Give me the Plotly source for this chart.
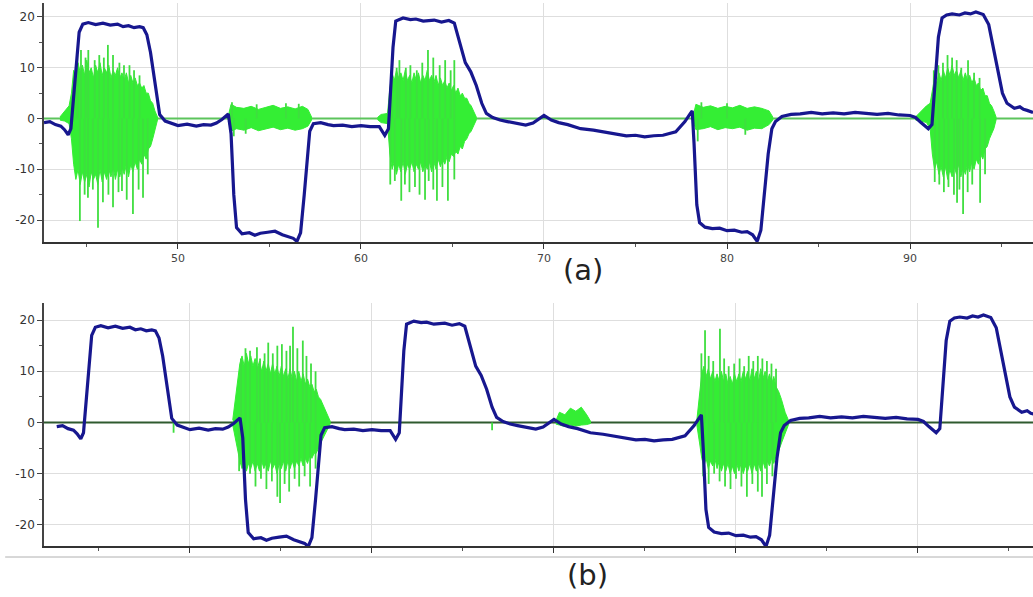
import plotly.graph_objects as go

# ---------------- data ----------------
# blue (slow) signal, shared by both panels
BLUE_T = [42.68, 43.0, 43.3, 43.6, 43.8, 44.0, 44.15, 44.3, 44.45, 44.6, 44.8, 45.1, 45.5, 45.9, 46.3, 46.7,
          47.0, 47.3, 47.6, 47.9, 48.1, 48.3, 48.5, 48.7, 48.85, 49.0, 49.3, 49.7, 50.0, 50.5, 51.0, 51.4,
          51.8, 52.1, 52.4, 52.75, 52.9, 53.05, 53.2, 53.5, 53.9, 54.2, 54.5, 54.9, 55.3, 55.7, 56.0, 56.3,
          56.5, 56.7, 56.9, 57.05, 57.2, 57.4, 57.8, 58.2, 58.5, 59.0, 59.5, 60.0, 60.5, 61.0, 61.3, 61.5,
          61.6, 61.75, 61.9, 62.3, 62.7, 63.0, 63.4, 64.0, 64.4, 64.8, 65.1, 65.4, 65.7, 66.0, 66.3, 66.6,
          66.85, 67.2, 67.6, 68.0, 68.5, 69.0, 69.4, 69.7, 70.0, 70.4, 70.8, 71.3, 72.0, 72.7, 73.5, 74.0,
          74.5, 75.0, 75.5, 76.0, 76.5, 77.2, 77.7, 78.0, 78.1, 78.2, 78.35, 78.5, 78.8, 79.2, 79.6, 80.0,
          80.4, 80.8, 81.1, 81.4, 81.65, 81.85, 82.05, 82.25, 82.45, 82.65, 83.0, 83.5, 84.0, 84.6, 85.2,
          85.8, 86.4, 87.0, 87.6, 88.2, 88.8, 89.4, 90.0, 90.3, 90.6, 91.0, 91.2, 91.35, 91.55, 91.75, 92.0,
          92.3, 92.7, 93.0, 93.3, 93.6, 94.0, 94.3, 94.55, 94.8, 95.05, 95.3, 95.5, 95.7, 96.0, 96.2, 96.4, 96.72]
BLUE_V = [-0.8, -0.6, -1.2, -1.5, -2.2, -3.2, -2.0, 5.0, 12.0, 17.0, 18.6, 18.9, 18.5, 18.8, 18.4, 18.6,
          18.1, 18.3, 17.9, 18.1, 17.9, 16.5, 13.0, 8.0, 3.5, 0.8, -0.5, -1.0, -1.4, -1.1, -1.5, -1.2,
          -1.3, -0.9, -0.2, 0.9, -3.0, -15.0, -21.5, -22.7, -22.5, -23.0, -22.6, -22.4, -22.2, -22.9, -23.2, -23.6,
          -24.2, -22.5, -15.0, -8.0, -2.5, -1.0, -0.8, -1.2, -1.4, -1.3, -1.6, -1.4, -1.6, -1.6, -3.3, -2.0,
          5.0, 14.0, 19.2, 19.8, 19.5, 19.6, 19.2, 19.4, 19.0, 19.3, 18.8, 15.0, 11.0, 9.2, 6.5, 3.0,
          1.0, 0.2, -0.3, -0.6, -0.9, -1.3, -0.9, -0.2, 0.6, -0.3, -0.8, -1.2, -2.0, -2.3, -2.8, -3.1,
          -3.4, -3.3, -3.6, -3.4, -3.3, -2.6, -0.6, 1.0, 1.5, -5.0, -17.0, -20.5, -21.4, -21.7, -21.6, -22.1,
          -22.0, -22.4, -22.3, -22.9, -24.2, -22.0, -15.0, -7.0, -2.0, -0.6, 0.4, 0.8, 0.9, 1.2, 0.9,
          1.1, 0.9, 1.2, 1.0, 0.8, 1.0, 0.7, 0.6, 0.2, -0.8, -2.0, -1.2, 6.0, 16.0, 19.8, 20.4,
          20.6, 20.4, 20.8, 20.6, 21.0, 20.5, 18.5, 14.0, 9.0, 5.0, 3.0, 2.4, 2.0, 2.3, 1.8, 1.6, 1.2]

# ---- green bursts, panel (a): body envelopes + spikes ----
A_BODY_T = [
    [43.55, 43.8, 44.05, 44.18, 44.3, 44.42, 44.54, 44.66, 44.78, 44.9, 45.02, 45.14, 45.26, 45.38, 45.5,
     45.62, 45.74, 45.86, 45.98, 46.1, 46.22, 46.34, 46.46, 46.58, 46.7, 46.82, 46.94, 47.06, 47.18, 47.3,
     47.42, 47.54, 47.66, 47.78, 47.9, 48.02, 48.14, 48.26, 48.38, 48.5, 48.62, 48.74, 48.88],
    [52.75, 52.9, 53.2, 53.6, 54.0, 54.4, 54.8, 55.2, 55.6, 56.0, 56.4, 56.8, 57.1, 57.3],
    [60.9, 61.1, 61.45, 61.58, 61.7, 61.82, 61.94, 62.06, 62.18, 62.3, 62.42, 62.54, 62.66, 62.78, 62.9,
     63.02, 63.14, 63.26, 63.38, 63.5, 63.62, 63.74, 63.86, 63.98, 64.1, 64.22, 64.34, 64.46, 64.58, 64.7,
     64.82, 64.94, 65.06, 65.18, 65.3, 65.42, 65.54, 65.66, 65.78, 65.9, 66.02, 66.14, 66.3],
    [78.15, 78.3, 78.7, 79.1, 79.5, 79.9, 80.3, 80.7, 81.1, 81.5, 81.9, 82.3, 82.5],
    [90.3, 90.6, 90.9, 91.1, 91.22, 91.34, 91.46, 91.58, 91.7, 91.82, 91.94, 92.06, 92.18, 92.3, 92.42,
     92.54, 92.66, 92.78, 92.9, 93.02, 93.14, 93.26, 93.38, 93.5, 93.62, 93.74, 93.86, 93.98, 94.1, 94.22,
     94.34, 94.46, 94.58, 94.7],
]
A_BODY_UP = [
    [0.3, 1.5, 2.5, 5.0, 9.5, 8.0, 11.0, 9.0, 10.5, 8.5, 11.5, 9.0, 10.0, 8.0, 10.5, 9.0, 11.0, 8.5, 10.0,
     9.0, 10.5, 8.0, 9.5, 8.5, 10.0, 8.0, 9.0, 7.5, 9.0, 7.0, 8.5, 7.0, 8.0, 6.5, 7.0, 6.0, 6.5, 5.0, 5.0,
     3.5, 3.0, 1.5, 0.3],
    [0.5, 2.8, 2.2, 2.0, 2.4, 1.8, 2.2, 2.6, 2.0, 2.3, 1.9, 2.4, 1.8, 0.3],
    [0.2, 0.8, 1.0, 6.0, 9.0, 7.5, 9.5, 8.0, 9.0, 7.5, 9.5, 7.5, 8.5, 7.0, 9.0, 7.5, 9.0, 7.0, 8.5, 7.5,
     9.5, 7.5, 8.5, 7.0, 8.5, 6.5, 8.0, 6.5, 7.5, 6.0, 7.0, 5.5, 6.5, 5.0, 6.0, 4.5, 5.0, 4.0, 4.0, 3.0,
     2.5, 1.5, 0.3],
    [0.5, 2.8, 2.2, 2.5, 2.0, 2.4, 2.1, 2.6, 2.0, 2.3, 2.0, 1.5, 0.3],
    [0.3, 1.5, 2.5, 3.0, 6.0, 8.0, 7.0, 9.0, 7.5, 9.5, 8.0, 10.0, 8.5, 10.5, 8.5, 9.5, 8.0, 9.5, 7.5, 9.0,
     7.5, 8.5, 7.0, 8.0, 6.5, 7.0, 5.5, 6.0, 4.5, 4.5, 3.0, 2.5, 1.5, 0.3],
]
A_BODY_LO = [
    [-0.3, -0.5, -1.0, -4.0, -9.0, -12.0, -10.0, -13.0, -10.5, -12.5, -11.0, -13.5, -10.5, -12.0, -11.0,
     -13.0, -10.0, -12.5, -10.5, -12.0, -10.0, -11.5, -9.5, -12.0, -10.0, -11.5, -9.5, -11.0, -9.0, -11.5,
     -9.0, -10.5, -8.5, -10.0, -8.0, -9.0, -7.0, -8.0, -6.0, -5.5, -4.0, -2.5, -0.3],
    [-0.5, -2.5, -2.0, -2.3, -1.8, -2.4, -2.0, -1.7, -2.2, -1.9, -2.3, -2.0, -1.5, -0.3],
    [-0.2, -0.8, -1.0, -7.0, -10.0, -8.5, -11.0, -9.0, -10.5, -8.5, -11.0, -9.0, -10.0, -8.5, -10.5,
     -9.0, -10.0, -8.5, -10.5, -9.0, -10.0, -8.5, -10.5, -8.5, -10.0, -8.0, -9.5, -8.0, -9.0, -7.5, -8.5,
     -7.0, -7.5, -6.5, -7.0, -5.5, -6.0, -4.5, -4.0, -3.0, -2.5, -1.5, -0.3],
    [-0.5, -2.2, -2.0, -1.6, -2.2, -1.8, -2.0, -1.7, -2.3, -1.9, -2.0, -1.2, -0.3],
    [-0.3, -0.5, -0.8, -2.0, -7.0, -10.0, -8.5, -11.0, -9.5, -11.5, -9.5, -12.0, -10.0, -11.5, -9.5,
     -11.0, -9.0, -11.5, -9.5, -11.0, -9.0, -10.5, -8.5, -10.0, -8.0, -9.0, -7.0, -8.0, -6.0, -5.5, -4.0,
     -3.0, -2.0, -0.3],
]
A_SPIKE_T = [44.5, 44.7, 44.95, 45.1, 45.45, 45.7, 45.95, 46.17, 46.45, 46.8, 47.05, 47.35, 47.6, 47.9,
             44.64, 44.9, 45.08, 45.35, 45.63, 45.9, 46.2, 46.45, 46.75, 46.94, 47.2, 47.54, 47.85, 48.09, 48.35,
             52.95, 53.05, 53.7, 54.3, 55.9, 56.6,
             61.7, 61.95, 62.1, 62.45, 62.7, 63.05, 63.35, 63.66, 63.95, 64.3, 64.6, 64.9, 65.1,
             61.6, 61.85, 62.2, 62.4, 62.65, 62.95, 63.2, 63.5, 63.7, 63.95, 64.15, 64.45, 64.75, 65.1,
             78.4, 78.6, 80.0, 81.0,
             91.3, 91.55, 91.8, 92.05, 92.3, 92.55, 92.8, 93.17, 93.5, 93.8,
             91.35, 91.6, 91.85, 92.1, 92.4, 92.57, 92.7, 92.9, 93.15, 93.4, 93.83, 94.1]
A_SPIKE_V = [12.5, 13.5, 12.0, 13.5, 11.5, 12.5, 12.0, 14.5, 12.5, 11.0, 10.5, 10.5, 9.5, 8.5,
             -20.2, -15.0, -15.6, -14.0, -21.5, -16.5, -15.0, -17.5, -14.5, -14.3, -16.0, -18.8, -14.0, -15.6, -11.0,
             3.2, -3.5, -3.0, 2.8, 3.0, 2.9,
             10.5, 10.0, 11.5, 10.0, 10.5, 9.5, 11.0, 13.5, 12.0, 10.5, 11.5, 9.5, 11.5,
             -13.0, -12.3, -16.2, -13.0, -14.5, -13.5, -15.0, -16.0, -12.3, -14.0, -16.2, -13.5, -16.2, -12.0,
             -4.5, 3.2, 3.0, -3.2,
             9.5, 10.5, 11.0, 12.5, 12.0, 11.5, 10.0, 11.5, 9.0, 8.0,
             -12.5, -13.0, -14.5, -13.5, -15.0, -16.6, -14.0, -18.8, -14.5, -13.0, -16.6, -11.0]

# ---- green bursts, panel (b) ----
B_BODY_T = [
    [52.35, 52.5, 52.62, 52.74, 52.86, 52.98, 53.1, 53.22, 53.34, 53.46, 53.58, 53.7, 53.82, 53.94, 54.06,
     54.18, 54.3, 54.42, 54.54, 54.66, 54.78, 54.9, 55.02, 55.14, 55.26, 55.38, 55.5, 55.62, 55.74, 55.86,
     55.98, 56.1, 56.22, 56.34, 56.46, 56.58, 56.7, 56.82, 56.94, 57.06, 57.18, 57.3, 57.45, 57.7],
    [70.1, 70.3, 70.6, 70.9, 71.2, 71.5, 71.8, 72.0],
    [77.85, 78.0, 78.12, 78.24, 78.36, 78.48, 78.6, 78.72, 78.84, 78.96, 79.08, 79.2, 79.32, 79.44, 79.56,
     79.68, 79.8, 79.92, 80.04, 80.16, 80.28, 80.4, 80.52, 80.64, 80.76, 80.88, 81.0, 81.12, 81.24, 81.36,
     81.48, 81.6, 81.72, 81.84, 81.96, 82.08, 82.2, 82.35, 82.5, 82.7, 82.9],
]
B_BODY_UP = [
    [0.5, 5.0, 9.0, 11.5, 13.0, 11.0, 13.5, 11.5, 13.0, 11.0, 12.5, 10.5, 12.0, 10.0, 12.0, 10.0, 11.5,
     9.5, 11.5, 9.5, 11.0, 9.0, 11.0, 9.0, 10.5, 8.5, 10.5, 8.5, 10.0, 8.0, 10.0, 8.0, 9.5, 7.5, 8.5, 7.0,
     7.5, 6.0, 6.5, 5.0, 4.5, 3.5, 2.5, 0.3],
    [0.3, 2.0, 1.5, 2.8, 2.2, 3.0, 1.5, 0.3],
    [0.5, 5.0, 9.5, 11.0, 9.0, 10.5, 8.5, 10.0, 8.0, 9.5, 8.0, 10.0, 8.0, 9.5, 7.5, 9.0, 7.5, 9.5, 8.0,
     9.5, 8.0, 10.0, 8.5, 10.0, 8.0, 10.5, 8.5, 10.0, 8.0, 10.5, 8.5, 10.0, 8.0, 9.5, 7.5, 9.0, 7.0, 6.0,
     4.5, 2.0, 0.3],
]
B_BODY_LO = [
    [-0.5, -3.0, -5.5, -7.5, -9.0, -7.5, -9.5, -8.0, -9.0, -7.5, -9.5, -8.0, -9.5, -7.5, -9.0, -8.0,
     -9.5, -7.5, -9.0, -8.0, -10.0, -8.0, -9.0, -7.5, -9.5, -7.5, -9.0, -7.5, -9.0, -7.5, -8.5, -7.0,
     -8.5, -7.0, -8.0, -6.5, -7.0, -6.0, -6.0, -5.0, -4.0, -3.0, -2.0, -0.3],
    [-0.3, -0.5, -0.8, -0.5, -0.7, -0.5, -0.4, -0.2],
    [-0.5, -4.0, -7.0, -8.5, -7.0, -9.0, -7.5, -8.5, -7.0, -9.0, -7.5, -9.5, -8.0, -9.5, -8.0, -10.0,
     -8.5, -10.0, -8.0, -9.5, -8.0, -10.0, -8.5, -9.5, -8.0, -10.0, -8.0, -9.5, -8.0, -9.5, -7.5, -9.0,
     -7.5, -8.5, -7.0, -8.0, -6.5, -5.5, -4.0, -2.0, -0.3],
]
B_SPIKE_T = [52.8, 53.05, 53.3, 53.68, 53.85, 54.1, 54.3, 54.55, 54.8, 55.05, 55.3, 55.5, 55.66, 55.9,
             56.2, 56.4, 56.65, 56.9,
             52.7, 53.0, 53.3, 53.6, 53.9, 54.2, 54.5, 54.8, 54.95, 55.2, 55.45, 55.75, 56.0, 56.3, 56.6, 56.9,
             49.1, 66.6,
             78.1, 78.3, 78.5, 78.75, 79.12, 79.35, 79.6, 79.9, 80.2, 80.45, 80.7, 80.95, 81.2, 81.45, 81.7,
             81.95, 82.2,
             78.2, 78.5, 78.8, 79.1, 79.4, 79.7, 80.0, 80.3, 80.6, 80.9, 81.2, 81.43, 81.7, 82.0]
B_SPIKE_V = [12.5, 14.5, 14.0, 14.7, 12.5, 13.5, 15.6, 13.5, 15.0, 15.3, 14.0, 15.0, 18.7, 14.5,
             16.0, 13.0, 11.5, 10.0,
             -9.5, -11.0, -10.0, -12.5, -11.0, -13.0, -11.5, -14.5, -15.7, -12.0, -13.5, -11.0, -12.5,
             -10.5, -12.5, -9.0,
             -2.0, -1.5,
             13.5, 18.0, 13.0, 12.0, 18.3, 12.5, 11.0, 11.5, 12.5, 11.0, 13.0, 12.0, 13.0, 12.5, 12.0,
             11.5, 10.5,
             -10.5, -12.0, -10.0, -11.5, -12.5, -13.0, -11.0, -12.5, -14.5, -12.0, -13.5, -14.5, -12.0, -10.5]

Y_TICKS = [20, 10, 0, -10, -20]
Y_LABELS = ["20", "10", "0", "-10", "-20"]
X_TICKS = [50, 60, 70, 80, 90]
X_LABELS = ["50", "60", "70", "80", "90"]

# ---------------- figure ----------------
GREEN = "#34ee34"
SPIKE = "#3fde3f"
BLUE = "#17178f"

fig = go.Figure()


def add_panel(xa, ya, body_t, body_up, body_lo, spike_t, spike_v, x0, x1, zero_col):
    # baseline of green signal
    fig.add_trace(go.Scatter(x=[x0, x1], y=[0, 0], mode="lines",
                             line=dict(color=zero_col, width=2), xaxis=xa, yaxis=ya,
                             hoverinfo="skip"))
    for t, up, lo in zip(body_t, body_up, body_lo):
        fig.add_trace(go.Scatter(x=list(t) + list(t)[::-1], y=list(up) + list(lo)[::-1],
                                 mode="lines", fill="toself", fillcolor=GREEN,
                                 line=dict(color=GREEN, width=1), xaxis=xa, yaxis=ya,
                                 hoverinfo="skip"))
    sx, sy = [], []
    for t, v in zip(spike_t, spike_v):
        sx += [t, t, None]
        sy += [0, v, None]
    fig.add_trace(go.Scatter(x=sx, y=sy, mode="lines", line=dict(color=SPIKE, width=1.8),
                             xaxis=xa, yaxis=ya, hoverinfo="skip"))
    fig.add_trace(go.Scatter(x=BLUE_T, y=BLUE_V, mode="lines",
                             line=dict(color=BLUE, width=3.2), xaxis=xa, yaxis=ya,
                             hoverinfo="skip"))


add_panel("x", "y", A_BODY_T, A_BODY_UP, A_BODY_LO, A_SPIKE_T, A_SPIKE_V, 42.68, 96.72, "#5cc45c")
add_panel("x2", "y2", B_BODY_T, B_BODY_UP, B_BODY_LO, B_SPIKE_T, B_SPIKE_V, 41.98, 96.32, "#2f5a2f")

axis_font = dict(family="DejaVu Sans", size=11, color="#444")
common_x = dict(tickmode="array", tickvals=X_TICKS, ticktext=X_LABELS, showgrid=True,
                gridcolor="#dedede", gridwidth=1, zeroline=False, showline=True,
                linecolor="#333", linewidth=2, ticks="outside", ticklen=5, tickcolor="#333",
                tickfont=axis_font,
                minor=dict(tickmode="linear", tick0=45, dtick=10, ticks="outside", ticklen=3,
                           tickcolor="#555", showgrid=False))
common_y = dict(tickmode="array", tickvals=Y_TICKS, ticktext=Y_LABELS, showgrid=True,
                gridcolor="#dedede", gridwidth=1, zeroline=False, showline=True,
                linecolor="#444", linewidth=1.5, ticks="outside", ticklen=5, tickcolor="#444",
                tickfont=dict(family="DejaVu Sans", size=12, color="#333"),
                minor=dict(tickmode="linear", tick0=-25, dtick=5, ticks="outside", ticklen=3,
                           tickcolor="#555", showgrid=False))

fig.update_layout(
    width=1033, height=597, autosize=False,
    margin=dict(l=0, r=0, t=0, b=0),
    paper_bgcolor="white", plot_bgcolor="white",
    showlegend=False,
    xaxis=dict(domain=[0.0426, 1.0], range=[42.68, 96.72], anchor="y", **common_x),
    yaxis=dict(domain=[0.5946, 0.995], range=[-24.33, 22.76], anchor="x", **common_y),
    xaxis2=dict(domain=[0.0426, 1.0], range=[41.98, 96.32], anchor="y2", showticklabels=False,
                **common_x),
    yaxis2=dict(domain=[0.0854, 0.4925], range=[-24.12, 23.34], anchor="x2", **common_y),
    annotations=[
        dict(text="(a)", x=0.5644, y=0.5477, xref="paper", yref="paper", showarrow=False,
             font=dict(family="DejaVu Sans", size=29, color="#222"), xanchor="center", yanchor="middle"),
        dict(text="(b)", x=0.5692, y=0.0369, xref="paper", yref="paper", showarrow=False,
             font=dict(family="DejaVu Sans", size=29, color="#222"), xanchor="center", yanchor="middle"),
    ],
    shapes=[
        dict(type="line", xref="paper", yref="paper", x0=0.005, x1=1.0,
             y0=1 - 557 / 597, y1=1 - 557 / 597, line=dict(color="#b0b0b0", width=1)),
    ],
)

fig.write_html("out.html")
